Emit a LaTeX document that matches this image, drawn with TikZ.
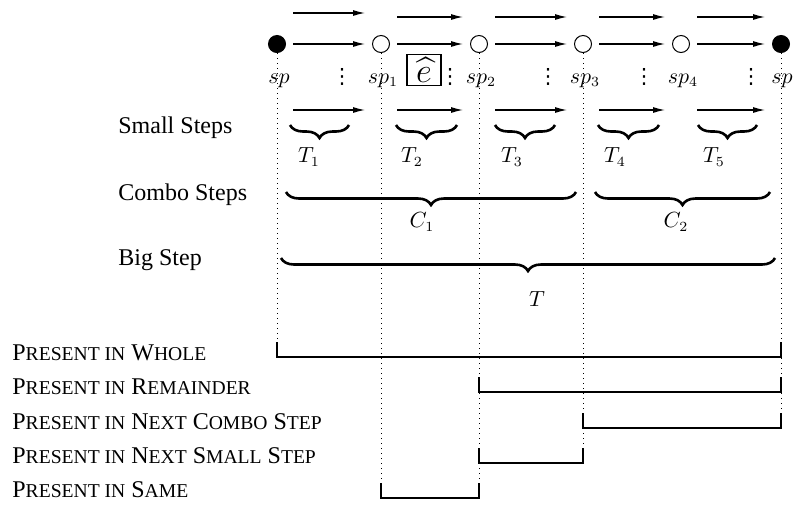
\documentclass[tikz,border=0pt]{standalone}
\usepackage[no-math]{fontspec}
\setmainfont{Liberation Serif}
\newfontfamily\dotsfont{DejaVu Sans}
\usepackage{amsmath}
\usepackage{tikz}
\usetikzlibrary{calc, arrows.meta, decorations.pathreplacing}

\newcommand{\smallcap}[1]{{\fontsize{9.8}{11}\selectfont #1}}
\newcommand{\sepdots}{{\dotsfont ⋮}}

\begin{document}
\begin{tikzpicture}[
    x = 0.5pt, y = -0.5pt,
    every node/.style = {inner sep = 0pt, font = \fontsize{10.5}{12}\selectfont},
    state/.style = {draw, circle, minimum size = 8.5pt, line width = 0.5pt},
    filled/.style = {state, fill = black},
    steparrow/.style = {-{Latex[length=6pt, width=3pt]}, line width = 0.6pt,
      shorten < = 3.5pt, shorten > = 3.5pt},
    stepbrace/.style = {decorate, decoration = {brace, mirror, amplitude = 6.5pt},
      line width = 1.3pt},
    guide/.style = {dotted, line width = 0.5pt},
    presence/.style = {line width = 1.3pt},
    heading/.style = {anchor = base west, font = \fontsize{12}{14}\selectfont},
    rowlabel/.style = {anchor = base west, font = \fontsize{12}{14}\selectfont}
  ]
  \useasboundingbox (0,0) rectangle (795,505);

  % stop points
  \node[filled] (sp0) at (277,44) {};
  \node[state]  (sp1) at (381,44) {};
  \node[state]  (sp2) at (479,44) {};
  \node[state]  (sp3) at (583,44) {};
  \node[state]  (sp4) at (681,44) {};
  \node[filled] (sp5) at (781,44) {};

  % arrows
  \foreach \a/\b in {0/1, 1/2, 2/3, 3/4, 4/5} {
    \draw[steparrow] (sp\a) -- (sp\b);
    \draw[steparrow] ([yshift=-33pt]sp\a.east) -- ([yshift=-33pt]sp\b.west);
  }
  \draw[steparrow] ([yshift=15.5pt]sp0.east) -- ([yshift=15.5pt]sp1.west);
  \foreach \a/\b in {1/2, 2/3, 3/4, 4/5}
    \draw[steparrow] ([yshift=13.5pt]sp\a.east) -- ([yshift=13.5pt]sp\b.west);

  % names of the stop points
  \node[anchor=base] (lsp0) at (279,83) {$sp$};
  \node[anchor=base] (lsp1) at (383,83) {$sp_1$};
  \node[anchor=base] (lsp2) at (481,83) {$sp_2$};
  \node[anchor=base] (lsp3) at (585,83) {$sp_3$};
  \node[anchor=base] (lsp4) at (683,83) {$sp_4$};
  \node[anchor=base] (lsp5) at (782,83) {$sp$};
  \foreach \x [count=\i] in {342, 450, 548, 644, 751}
    \node (dots\i) at (\x,77) {\sepdots};
  \node[draw, line width=0.6pt, inner sep=1.5pt, minimum width=17pt,
    minimum height=15.5pt, font=\fontsize{17}{20}\selectfont]
    (edge) at (424,70) {$\widehat{e}$};

  % dotted guides
  \foreach \n/\y in {0/342, 1/482, 2/482, 3/447, 5/412}
    \draw[guide] (sp\n.south) -- (sp\n |- 0,\y);

  % Labels
  \node[heading] (small) at (118,133) {Small Steps};
  \node[heading] (combo) at (118,200) {Combo Steps};
  \node[heading] (big)   at (118,265) {Big Step};

  % braces
  \foreach \xa/\xb/\xl [count=\i] in {290/349/309, 396/457/412, 495/555/512,
      598/659/615, 698/757/714} {
    \draw[stepbrace] (\xa,125) -- (\xb,125);
    \node (t\i) at (\xl,157) {$T_{\i}$};
  }
  \draw[stepbrace] (286,192) -- (576,192);
  \node (c1) at (422,222) {$C_1$};
  \draw[stepbrace] (595,192) -- (770,192);
  \node (c2) at (676,222) {$C_2$};
  \draw[stepbrace] (281,258) -- (775,258);
  \node (t) at (537,299) {$T$};

  % presence
  \node[rowlabel] (whole) at (12,360)
    {P\smallcap{RESENT IN} W\smallcap{HOLE}};
  \node[rowlabel] (remainder) at (12,394)
    {P\smallcap{RESENT IN} R\smallcap{EMAINDER}};
  \node[rowlabel] (nextcombo) at (12,429)
    {P\smallcap{RESENT IN} N\smallcap{EXT} C\smallcap{OMBO} S\smallcap{TEP}};
  \node[rowlabel] (nextsmall) at (12,463)
    {P\smallcap{RESENT IN} N\smallcap{EXT} S\smallcap{MALL} S\smallcap{TEP}};
  \node[rowlabel] (same) at (12,497)
    {P\smallcap{RESENT IN} S\smallcap{AME}};
  \foreach \y/\a/\b in {357/0/5, 392/2/5, 428/3/5, 463/2/3, 498/1/2}
    \draw[presence] ($(sp\a |- 0,\y)+(0,-15)$) -- (sp\a |- 0,\y)
      -- (sp\b |- 0,\y) -- ++(0,-15);

\end{tikzpicture}
\end{document}
